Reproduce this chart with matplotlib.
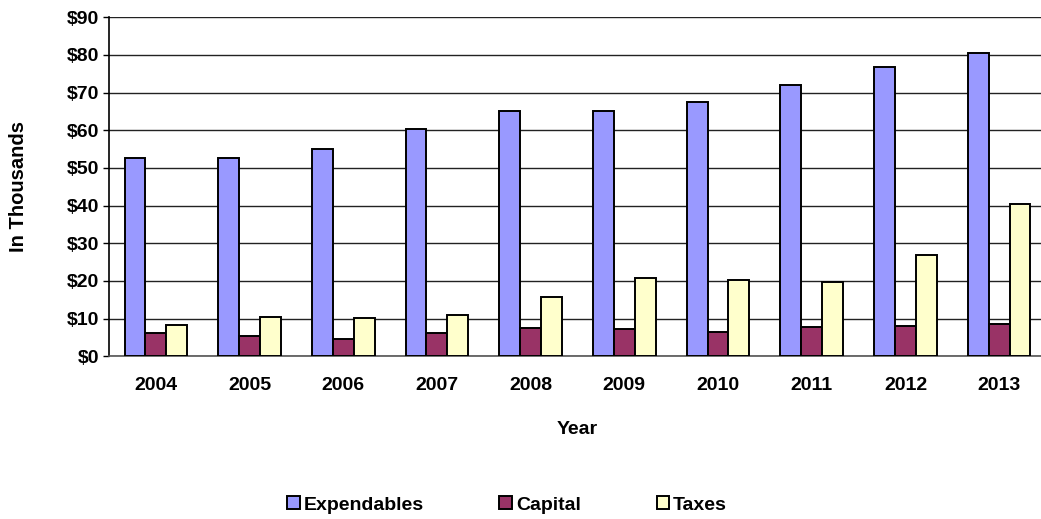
import matplotlib.pyplot as plt
import numpy as np
from matplotlib.ticker import FuncFormatter

plt.rcParams["font.family"] = ["Liberation Sans", "DejaVu Sans"]
plt.rcParams["font.weight"] = "bold"

# Valori (in mii de dolari)
years = ["2004", "2005", "2006", "2007", "2008", "2009", "2010", "2011", "2012", "2013"]
expendables = [52.6, 52.6, 55.0, 60.4, 65.1, 65.1, 67.6, 72.0, 76.7, 80.6]
capital = [6.1, 5.5, 4.6, 6.1, 7.4, 7.2, 6.5, 7.7, 8.1, 8.6]
taxes = [8.3, 10.5, 10.1, 11.0, 15.8, 20.7, 20.3, 19.6, 26.9, 40.4]

series_names = ["Expendables", "Capital", "Taxes"]
colors = ["#9999FF", "#993366", "#FFFFCC"]

fig = plt.figure(figsize=(10.41, 5.19), dpi=100)
ax = fig.add_axes([0.1047, 0.3135, 0.9001, 0.6532])

x = np.arange(len(years))
w = 0.223
for i, (vals, name, col) in enumerate(zip([expendables, capital, taxes], series_names, colors)):
    ax.bar(x + (i - 1) * w, vals, width=w, color=col, edgecolor="black",
           linewidth=1.4, label=name, zorder=3)

ax.set_ylim(0, 90)
ax.set_xlim(-0.5, len(years) - 0.5)
ax.set_yticks(np.arange(0, 91, 10))
ax.yaxis.set_major_formatter(FuncFormatter(lambda v, p: f"${v:.0f}"))
ax.set_xticks(x)
ax.set_xticklabels(years)

ax.grid(axis="y", color="#222222", linewidth=1.0, zorder=0)
ax.set_axisbelow(True)

for s in ["top", "right"]:
    ax.spines[s].set_visible(False)
ax.spines["left"].set_color("black")
ax.spines["left"].set_linewidth(1.2)
ax.spines["bottom"].set_color("#555555")
ax.spines["bottom"].set_linewidth(1.2)

fs = 14
ax.tick_params(axis="y", length=4, width=1.0, labelsize=fs, pad=3)
ax.tick_params(axis="x", length=0, labelsize=fs, pad=15)

ax.set_ylabel("In Thousands", fontsize=fs + 0.5, fontweight="bold", labelpad=28)
ax.set_xlabel("Year", fontsize=fs, fontweight="bold", labelpad=19)

handles, labels = ax.get_legend_handles_labels()
fig.legend(handles, labels, loc="center", bbox_to_anchor=(0.487, 0.027), ncol=3,
           frameon=False, fontsize=fs, handlelength=0.65, handleheight=0.65,
           handletextpad=0.2, columnspacing=3.9)

plt.savefig("out.png", dpi=100)
